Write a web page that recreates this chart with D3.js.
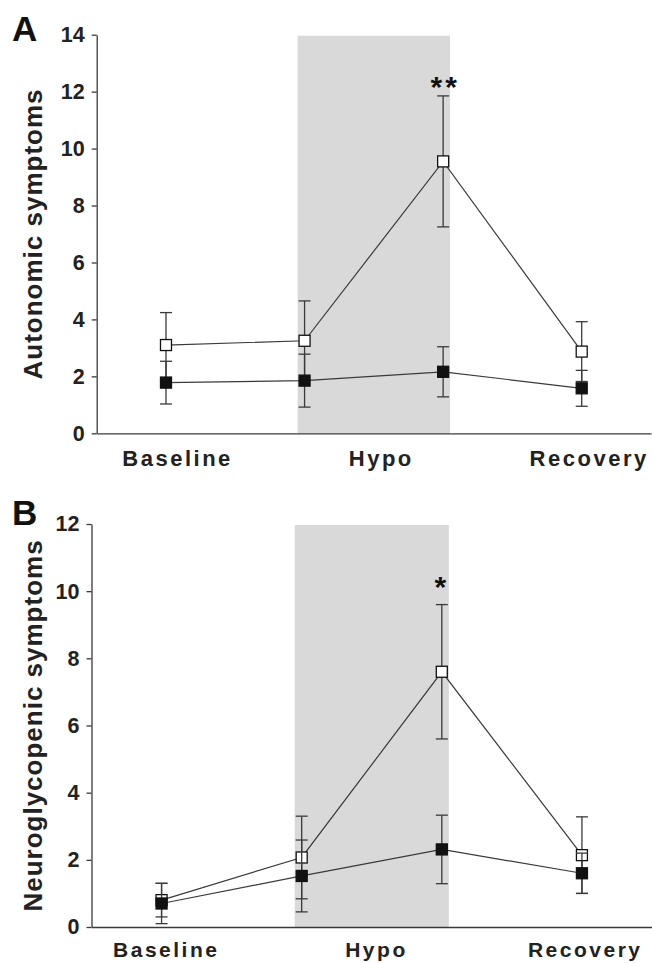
<!DOCTYPE html>
<html>
<head>
<meta charset="utf-8">
<script src="https://cdn.jsdelivr.net/npm/d3@7"></script>
<style>
	body { margin: 0; background: #fff; }
	svg { display: block; }
</style>
</head>
<body>
<div id="wrapper"></div>
<script>
// study phases and the four sampling points (index 0..3)
const phases = ["Baseline", "Hypo", "Recovery"];
const samples = [0, 1, 2, 3];
const hypoSpan = [0.95, 2.05];

// A: autonomic symptoms (mean and error)
const autoOpenMean = [3.1, 3.25, 9.55, 2.87];
const autoOpenErr = [1.14, 1.4, 2.3, 1.05];
const autoFilledMean = [1.78, 1.85, 2.16, 1.58];
const autoFilledErr = [0.75, 0.93, 0.88, 0.63];

// B: neuroglycopenic symptoms
const neuroOpenMean = [0.8, 2.07, 7.6, 2.14];
const neuroOpenErr = [0.5, 1.23, 2.0, 1.14];
const neuroFilledMean = [0.7, 1.52, 2.31, 1.6];
const neuroFilledErr = [0.6, 1.07, 1.02, 0.6];

const fontFamily = '"Liberation Sans", Arial, Helvetica, sans-serif';
const ink = "#222";
const lineColor = "#3a3a3a";

const svg = d3.select("#wrapper").append("svg")
	.attr("width", 652)
	.attr("height", 963);

const panels = [
	{
		letter: "A", letterY: 41,
		title: "Autonomic symptoms", titleX: 42,
		yMax: 14, top: 34.7, bottom: 433.3, left: 96.7, right: 651,
		labelAt: [0.08, 1.55, 3.05], labelSize: 22, labelPad: 17,
		open: autoOpenMean, openErr: autoOpenErr,
		filled: autoFilledMean, filledErr: autoFilledErr,
		stars: "**", starGap: -1
	},
	{
		letter: "B", letterY: 525,
		title: "Neuroglycopenic symptoms", titleX: 41.5,
		yMax: 12, top: 524, bottom: 927, left: 91.5, right: 652,
		labelAt: [0.03, 1.53, 3.02], labelSize: 21, labelPad: 15,
		open: neuroOpenMean, openErr: neuroOpenErr,
		filled: neuroFilledMean, filledErr: neuroFilledErr,
		stars: "*", starGap: 8
	}
];

function drawPanel(p) {
	const xScale = d3.scaleLinear()
		.domain([-0.5, 3.5])
		.range([p.left, p.right]);

	const yScale = d3.scaleLinear()
		.domain([0, p.yMax])
		.range([p.bottom, p.top]);

	const g = svg.append("g");

	// hypoglycaemia period
	g.append("rect")
		.attr("x", xScale(hypoSpan[0]))
		.attr("width", xScale(hypoSpan[1]) - xScale(hypoSpan[0]))
		.attr("y", yScale(p.yMax) + 1)
		.attr("height", yScale(0) - yScale(p.yMax) - 1)
		.attr("fill", "#d9d9d9");

	const yAxisGenerator = d3.axisLeft(yScale)
		.tickValues(d3.range(0, p.yMax + 1, 2))
		.tickSize(5)
		.tickSizeOuter(0)
		.tickPadding(7);

	const yAxis = g.append("g")
		.attr("transform", `translate(${p.left},0)`)
		.call(yAxisGenerator);
	yAxis.select(".domain").attr("stroke", lineColor).attr("stroke-width", 1.3);
	yAxis.selectAll(".tick line").attr("stroke", lineColor).attr("stroke-width", 1.3);
	yAxis.selectAll(".tick text")
		.attr("fill", ink)
		.attr("font-family", fontFamily)
		.attr("font-size", 21.5)
		.attr("font-weight", "bold");

	const xAxisGenerator = d3.axisBottom(xScale)
		.tickValues(p.labelAt)
		.tickFormat((d, i) => phases[i])
		.tickSize(0)
		.tickSizeOuter(0)
		.tickPadding(p.labelPad);

	const xAxis = g.append("g")
		.attr("transform", `translate(0,${yScale(0)})`)
		.call(xAxisGenerator);
	xAxis.select(".domain").attr("stroke", lineColor).attr("stroke-width", 1.3);
	xAxis.selectAll(".tick text")
		.attr("fill", ink)
		.attr("font-family", fontFamily)
		.attr("font-size", p.labelSize)
		.attr("font-weight", "bold")
		.style("letter-spacing", "2.5px");

	// axis title
	g.append("text")
		.attr("transform", `translate(${p.titleX},${(p.top + p.bottom) / 2}) rotate(-90)`)
		.attr("text-anchor", "middle")
		.attr("fill", ink)
		.attr("font-family", fontFamily)
		.attr("font-size", 26)
		.attr("font-weight", "bold")
		.style("letter-spacing", "1px")
		.text(p.title);

	// panel letter
	g.append("text")
		.attr("x", 12)
		.attr("y", p.letterY)
		.attr("fill", "#111")
		.attr("font-family", fontFamily)
		.attr("font-size", 35)
		.attr("font-weight", "bold")
		.text(p.letter);

	const lineGenerator = d3.line()
		.x((d, i) => xScale(samples[i]))
		.y(d => yScale(d));

	const series = [
		{ mean: p.open, err: p.openErr, fill: "#fff" },
		{ mean: p.filled, err: p.filledErr, fill: "#111" }
	];

	series.forEach(s => {
		g.append("path")
			.attr("d", lineGenerator(s.mean))
			.attr("fill", "none")
			.attr("stroke", lineColor)
			.attr("stroke-width", 1.2);

		const bars = g.append("g")
			.attr("stroke", lineColor)
			.attr("stroke-width", 1.3)
			.selectAll("g")
			.data(samples)
			.join("g");

		bars.append("line")
			.attr("x1", i => xScale(i))
			.attr("x2", i => xScale(i))
			.attr("y1", i => yScale(s.mean[i] + s.err[i]))
			.attr("y2", i => yScale(s.mean[i] - s.err[i]));

		[1, -1].forEach(sign => {
			bars.append("line")
				.attr("x1", i => xScale(i) - 6)
				.attr("x2", i => xScale(i) + 6)
				.attr("y1", i => yScale(s.mean[i] + sign * s.err[i]))
				.attr("y2", i => yScale(s.mean[i] + sign * s.err[i]));
		});

		g.append("g")
			.selectAll("rect")
			.data(samples)
			.join("rect")
			.attr("x", i => xScale(i) - 5.5)
			.attr("y", i => yScale(s.mean[i]) - 5.5)
			.attr("width", 11)
			.attr("height", 11)
			.attr("fill", s.fill)
			.attr("stroke", "#111")
			.attr("stroke-width", 1.3);
	});

	// significance marker above the hypo peak
	g.append("text")
		.attr("x", xScale(2))
		.attr("dx", p.stars.length > 1 ? 2 : 0)
		.attr("y", yScale(p.open[2] + p.openErr[2]) - p.starGap)
		.attr("text-anchor", "middle")
		.attr("fill", "#111")
		.attr("font-family", fontFamily)
		.attr("font-size", 30)
		.attr("font-weight", "bold")
		.style("letter-spacing", "3px")
		.text(p.stars);
}

panels.forEach(drawPanel);
</script>
</body>
</html>
